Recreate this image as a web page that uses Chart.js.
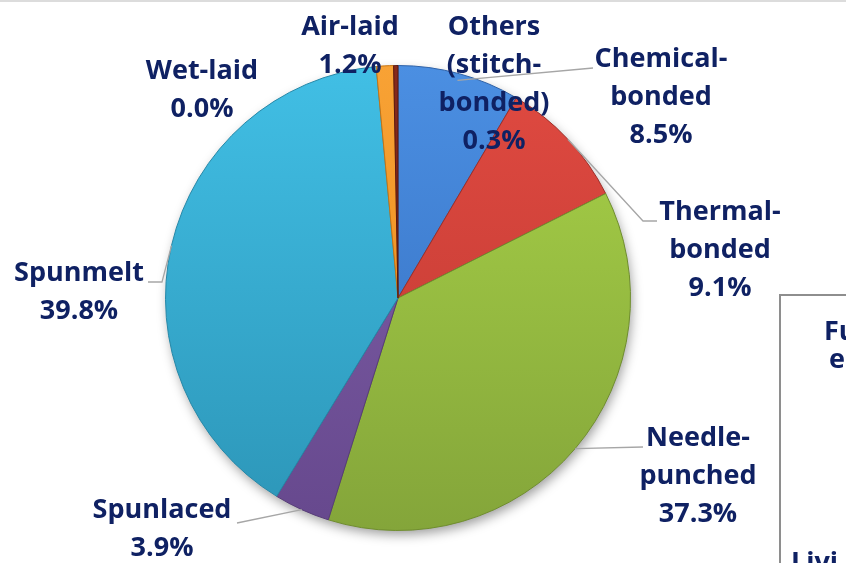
<!DOCTYPE html>
<html>
<head>
<meta charset="utf-8">
<script src="https://cdn.jsdelivr.net/npm/chart.js@4.4.1/dist/chart.umd.min.js"></script>
<style>
  html, body { margin: 0; padding: 0; background: #fff; }
  #wrap { position: relative; width: 846px; height: 563px; overflow: hidden; }
  #topline { position: absolute; left: 0; top: 0; width: 846px; height: 2px; background: #dcdcdc; }
  #sidebox {
    position: absolute; left: 779px; top: 294px; width: 120px; height: 320px;
    border: 2px solid #8e8e8e; box-sizing: border-box;
    font-family: "Open Sans", sans-serif; font-weight: bold; font-size: 27px; color: #0f2163;
  }
  #sidebox div { position: absolute; white-space: nowrap; }
</style>
</head>
<body>
<div id="wrap">
  <canvas id="pie" width="846" height="563"></canvas>
  <div id="topline"></div>
  <div id="sidebox">
    <div style="left:43px; top:15px;">Fu</div>
    <div style="left:48px; top:43px;">ec</div>
    <div style="left:10px; top:246px;">Livi</div>
  </div>
</div>
<script>
// slice data, clockwise from 12 o'clock
const categories = ["Chemical-bonded", "Thermal-bonded", "Needle-punched", "Spunlaced", "Spunmelt", "Wet-laid", "Air-laid", "Others (stitch-bonded)"];
const shares = [8.5, 9.1, 37.3, 3.9, 39.8, 0.0, 1.2, 0.3];
const labelLines = [
  ["Chemical-", "bonded", "8.5%"],
  ["Thermal-", "bonded", "9.1%"],
  ["Needle-", "punched", "37.3%"],
  ["Spunlaced", "3.9%"],
  ["Spunmelt", "39.8%"],
  ["Wet-laid", "0.0%"],
  ["Air-laid", "1.2%"],
  ["Others", "(stitch-", "bonded)", "0.3%"]
];

// colours: [top, bottom] of each slice
const sliceColors = [
  ["#4b8fe2", "#336cbd"],
  ["#e04a41", "#bd3831"],
  ["#a9d348", "#84a53a"],
  ["#8262ab", "#66488d"],
  ["#41bfe5", "#2c95b7"],
  ["#9bbb59", "#9bbb59"],
  ["#f8a235", "#e88817"],
  ["#86291b", "#6e1f14"]
];
const edgeColors = ["#2f62a8", "#9e2f29", "#6f8d2e", "#573d78", "#2688a8", "#6f8d2e", "#c77514", "#5a180f"];

// label placement (centre x, first line centre y) and leader lines, canvas px
const labelPos = [
  [661, 59], [720, 212], [698, 438], [162, 510], [79, 273], [202, 71], [350, 27], [494, 27]
];
const leaders = [
  [[593, 68]],
  [[643, 221], [657, 221]],
  [[643, 447]],
  [[237, 523]],
  [[162, 282], [148, 282]],
  null, null, null
];
const leaderDepth = [0.97, 1.0, 1.0, 1.0, 1.0, 1, 1, 1];

const lineGap = 38;
const labelFont = 'bold 27px "Open Sans"';
const labelColor = "#0f2163";

const shadowPlugin = {
  id: "pieShadow",
  beforeDatasetsDraw(chart) {
    const arc = chart.getDatasetMeta(0).data[0];
    if (!arc) return;
    const ctx = chart.ctx;
    ctx.save();
    ctx.shadowColor = "rgba(0,0,0,0.4)";
    ctx.shadowBlur = 12;
    ctx.shadowOffsetX = 2;
    ctx.shadowOffsetY = 5;
    ctx.fillStyle = "#888";
    ctx.beginPath();
    ctx.arc(arc.x, arc.y, arc.outerRadius - 1, 0, Math.PI * 2);
    ctx.fill();
    ctx.restore();
  }
};

const labelPlugin = {
  id: "outLabels",
  afterDatasetsDraw(chart) {
    const ctx = chart.ctx;
    const arcs = chart.getDatasetMeta(0).data;
    ctx.save();
    ctx.strokeStyle = "#a6a6a6";
    ctx.lineWidth = 1.3;
    arcs.forEach((arc, i) => {
      const pts = leaders[i];
      if (!pts) return;
      const mid = (arc.startAngle + arc.endAngle) / 2;
      const r = arc.outerRadius * leaderDepth[i];
      ctx.beginPath();
      ctx.moveTo(arc.x + Math.cos(mid) * r, arc.y + Math.sin(mid) * r);
      pts.forEach(p => ctx.lineTo(p[0], p[1]));
      ctx.stroke();
    });
    ctx.font = labelFont;
    ctx.textAlign = "center";
    ctx.textBaseline = "middle";
    ctx.fillStyle = labelColor;
    labelLines.forEach((lines, i) => {
      const [cx, cy] = labelPos[i];
      lines.forEach((t, k) => ctx.fillText(t, cx, cy + k * lineGap));
    });
    ctx.restore();
  }
};

function sliceFill(context) {
  const chart = context.chart;
  const area = chart.chartArea;
  if (!area) return sliceColors[context.dataIndex][0];
  const c = sliceColors[context.dataIndex];
  const g = chart.ctx.createLinearGradient(0, area.top, 0, area.bottom);
  g.addColorStop(0, c[0]);
  g.addColorStop(1, c[1]);
  return g;
}

new Chart(document.getElementById("pie"), {
  type: "pie",
  data: {
    labels: categories,
    datasets: [{
      data: shares,
      backgroundColor: sliceFill,
      borderColor: edgeColors,
      borderWidth: 1
    }]
  },
  options: {
    responsive: false,
    animation: false,
    rotation: 0,
    layout: { padding: { left: 164, right: 214, top: 65, bottom: 32 } },
    plugins: {
      legend: { display: false },
      tooltip: { enabled: false }
    }
  },
  plugins: [shadowPlugin, labelPlugin]
});
</script>
</body>
</html>
